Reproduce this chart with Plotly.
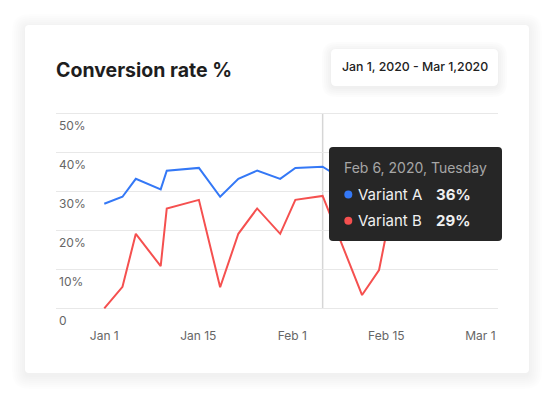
import plotly.graph_objects as go

# ---------------- data ----------------
days = [0, 3, 5.2, 9.3, 10.3, 15.6, 19.1, 22.1, 25.2, 29, 31.5, 36, 42.5, 45.3, 47.5]
variant_a = [26.8, 28.6, 33.2, 30.5, 35.3, 36.0, 28.6, 33.2, 35.3, 33.2, 36.0, 36.3, 30.0, 32.0, 34.0]
variant_b = [0.0, 5.5, 19.1, 10.8, 25.6, 27.8, 5.4, 19.1, 25.6, 19.1, 27.8, 28.8, 3.4, 9.8, 27.0]
x_tick_vals = [0, 15.5, 31, 46.5, 62]
x_tick_text = ["Jan 1", "Jan 15", "Feb 1", "Feb 15", "Mar 1"]
y_tick_vals = [0, 10, 20, 30, 40, 50]
y_tick_text = ["0", "10%", "20%", "30%", "40%", "50%"]
hover_day = 36
hover_title = "Feb 6, 2020, Tuesday"
hover_a = "36%"
hover_b = "29%"

BLUE = "#3478F6"
RED = "#F5504F"
FONT = "Inter"

W, H = 554, 399
OFF = 8  # page body margin offset
# plot area in page pixels: x 56..498, y 111..310
L, R, T, B = 56 - OFF, W - (498 - OFF), 111 - OFF, H - (310 - OFF)
PW, PH = W - L - R, H - T - B


def px(x, y):
    x -= OFF
    y -= OFF
    return (x - L) / PW, (H - B - y) / PH


def rrect(x0, y0, x1, y1, r):
    a0, b0 = px(x0, y0)
    a1, b1 = px(x1, y1)
    rx = r / PW
    ry = r / PH
    return (f"M{a0+rx},{b0} L{a1-rx},{b0} Q{a1},{b0} {a1},{b0-ry} "
            f"L{a1},{b1+ry} Q{a1},{b1} {a1-rx},{b1} L{a0+rx},{b1} "
            f"Q{a0},{b1} {a0},{b1+ry} L{a0},{b0-ry} Q{a0},{b0} {a0+rx},{b0} Z")


fig = go.Figure()
fig.add_trace(go.Scatter(x=days, y=variant_a, mode="lines", name="Variant A",
                         line=dict(color=BLUE, width=2), hoverinfo="skip"))
fig.add_trace(go.Scatter(x=days, y=variant_b, mode="lines", name="Variant B",
                         line=dict(color=RED, width=2), hoverinfo="skip"))

shapes = []
# card shadow
for i in range(7):
    g = 1 + i * 2
    shapes.append(dict(type="path", xref="paper", yref="paper", layer="below",
                       path=rrect(25 - g, 25 - g + 2, 529 + g, 373 + g + 3, 4 + g),
                       fillcolor="rgba(0,0,0,0.009)", line=dict(width=0)))
shapes.append(dict(type="path", xref="paper", yref="paper", layer="below",
                   path=rrect(25, 25, 529, 373, 4), fillcolor="white", line=dict(width=0)))
# date box shadow
for i in range(5):
    g = 1 + i * 2
    shapes.append(dict(type="path", xref="paper", yref="paper", layer="below",
                       path=rrect(331 - g, 49 - g + 2, 498 + g, 86 + g + 2, 5 + g),
                       fillcolor="rgba(0,0,0,0.012)", line=dict(width=0)))
shapes.append(dict(type="path", xref="paper", yref="paper", layer="below",
                   path=rrect(331, 49, 498, 86, 5), fillcolor="white", line=dict(width=0)))
# hover line
shapes.append(dict(type="line", xref="x", yref="y", x0=hover_day, x1=hover_day, y0=0, y1=50,
                   layer="below", line=dict(color="#D6D6D6", width=1.5)))
# tooltip box
shapes.append(dict(type="path", xref="paper", yref="paper", layer="above",
                   path=rrect(329, 147, 502, 241, 4), fillcolor="#262626", line=dict(width=0)))
# tooltip dots
for cy, col in [(194.5, BLUE), (220.8, RED)]:
    a0, b0 = px(344.3, cy - 4)
    a1, b1 = px(352.3, cy + 4)
    shapes.append(dict(type="circle", xref="paper", yref="paper", layer="above",
                       x0=a0, x1=a1, y0=b1, y1=b0, fillcolor=col, line=dict(width=0)))

annotations = []


def ann(text, x, y, size, color, xanchor="left", weight="normal"):
    a, b = px(x, y)
    annotations.append(dict(text=text, x=a, y=b, xref="paper", yref="paper",
                            xanchor=xanchor, yanchor="middle", showarrow=False,
                            font=dict(family=FONT, size=size, color=color, weight=weight)))


ann("Conversion rate %", 54, 70, 19.5, "#1E1E1E", weight="bold")
ann("Jan 1, 2020 - Mar 1,2020", 414.5, 67, 12.3, "#222222", xanchor="center", weight=500)
ann(hover_title, 341.5, 167.5, 14, "#A6A6A6")
ann("Variant A", 355.5, 194.5, 15, "#F0F0F0")
ann(hover_a, 433.5, 194.5, 15, "#F0F0F0", weight="bold")
ann("Variant B", 355.5, 220.8, 15, "#F0F0F0")
ann(hover_b, 433.5, 220.8, 15, "#F0F0F0", weight="bold")

fig.update_layout(
    width=W, height=H,
    margin=dict(l=L, r=R, t=T, b=B, pad=0),
    paper_bgcolor="white", plot_bgcolor="rgba(0,0,0,0)",
    showlegend=False,
    shapes=shapes, annotations=annotations,
    font=dict(family=FONT, size=12, color="#666666"),
    xaxis=dict(range=[-7.96, 64.91], tickvals=x_tick_vals, ticktext=x_tick_text,
               showgrid=False, zeroline=False, showline=False, ticks="",
               ticklabelstandoff=17, tickfont=dict(size=12, color="#666666")),
    yaxis=dict(range=[-0.44, 50.59], tickvals=y_tick_vals, ticktext=y_tick_text,
               showgrid=True, gridcolor="#E8E8E8", gridwidth=1, zeroline=False,
               showline=False, ticks="", ticklabelposition="inside bottom",
               ticklabeloverflow="allow", ticklabelshift=4,
               tickfont=dict(size=12, color="#666666")),
)

fig.write_html("out.html")
